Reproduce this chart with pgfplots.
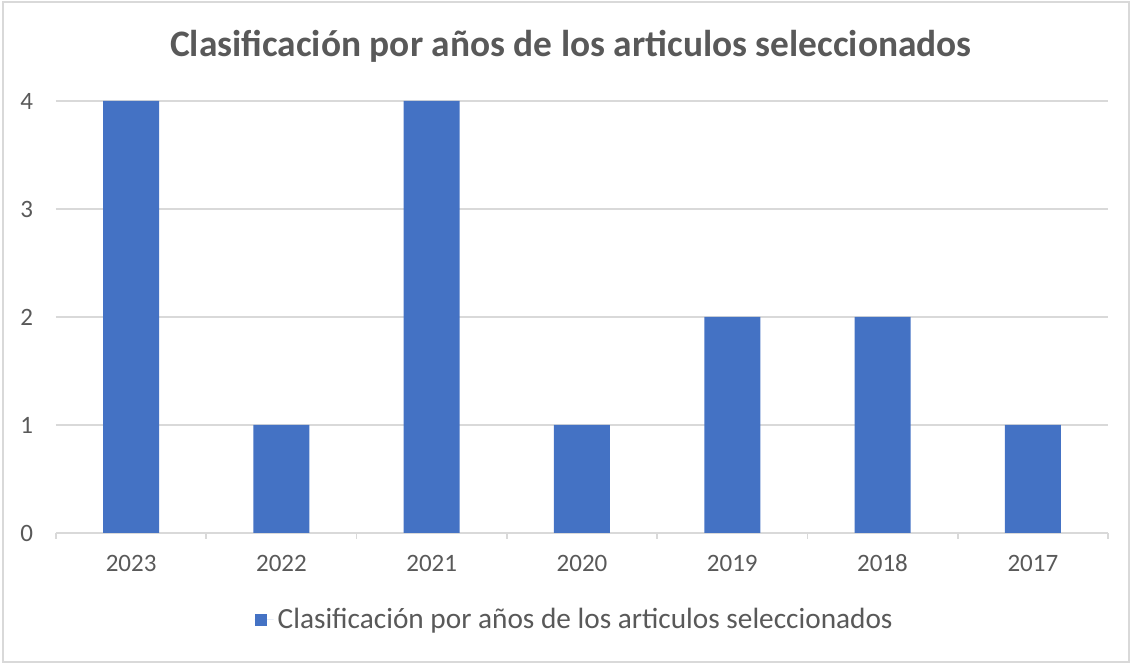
\documentclass[border=0pt]{standalone}
\usepackage{pgfplots}
\pgfplotsset{compat=1.18}
\usepackage{fontspec}
\setmainfont{Carlito}
\definecolor{barblue}{HTML}{4472C4}
\definecolor{txtgray}{HTML}{595959}
\definecolor{gridgray}{HTML}{D9D9D9}
\begin{document}
\begin{tikzpicture}
\useasboundingbox (0,0) rectangle (566pt,332pt);
\draw[gridgray, line width=0.8pt] (1.5pt,1pt) rectangle (564.5pt,331pt);
\begin{axis}[
  at={(28pt,65.5pt)}, anchor=south west,
  scale only axis, width=526pt, height=216pt,
  xmin=-0.5, xmax=6.5, ymin=0, ymax=4,
  axis x line*=bottom, axis y line*=left,
  x axis line style={gridgray, line width=0.8pt},
  y axis line style={draw=none},
  xtick={0,...,6},
  xticklabels={2023,2022,2021,2020,2019,2018,2017},
  minor xtick={-0.5,0.5,...,6.5},
  major tick length=0pt,
  minor tick length=3pt,
  tick align=outside,
  minor tick style={gridgray, line width=0.8pt},
  major tick style={draw=none},
  ytick={0,1,2,3,4},
  ymajorgrids, grid style={gridgray, line width=0.8pt},
  /pgf/number format/assume math mode=true,
  tick label style={font=\fontsize{12.5}{14}\selectfont, text=txtgray},
  xticklabel style={anchor=base, yshift=-19.5pt},
  yticklabel style={xshift=-8pt},
  title={Clasificación por años de los articulos seleccionados},
  title style={at={(0.4895,1.0995)}, anchor=center, font=\fontsize{18.7}{22}\bfseries, text=txtgray},
  legend style={at={(0.494,-0.201)}, anchor=center, draw=none, font=\fontsize{14.65}{17}\selectfont, text=txtgray},
  legend image code/.code={\fill[barblue] (0pt,-3pt) rectangle (6pt,3pt); \path (0pt,0pt) -- (9.5pt,0pt);},
  clip=false,
]
\addplot[ybar, bar width=28pt, fill=barblue, draw=none] coordinates {
  (0,4) (1,1) (2,4) (3,1) (4,2) (5,2) (6,1)
};
\addlegendentry{Clasificación por años de los articulos seleccionados}
\end{axis}
\end{tikzpicture}
\end{document}
